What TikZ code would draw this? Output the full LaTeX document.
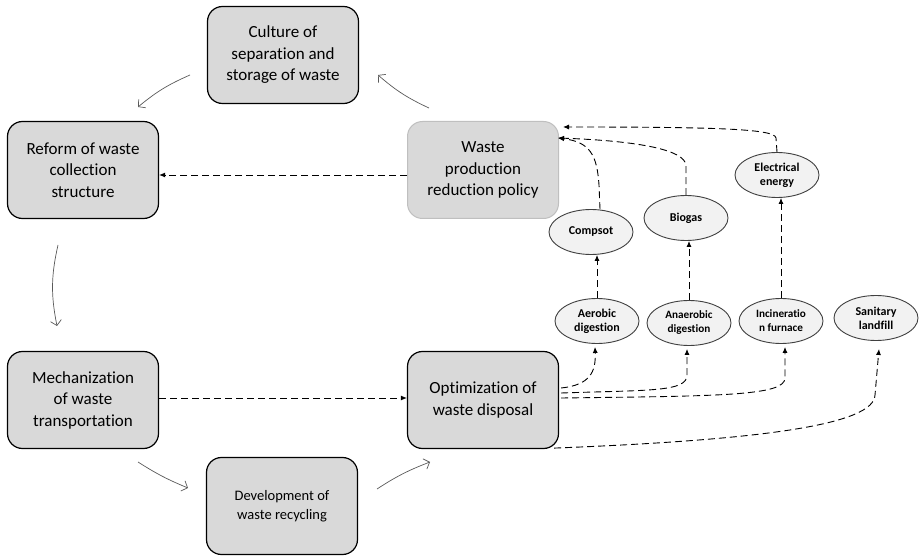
\documentclass[tikz,border=0pt]{standalone}
\usepackage{fontspec}
\setmainfont{Carlito}[Ligatures={NoCommon,NoRare,NoContextual}]
\usetikzlibrary{shapes.geometric,arrows.meta,calc}
\definecolor{boxgray}{HTML}{D9D9D9}
\definecolor{ellgray}{HTML}{F2F2F2}
\definecolor{lightborder}{HTML}{BFBFBF}
\definecolor{arrgray}{HTML}{595959}
\tikzset{
  box/.style={draw=black, line width=1.2pt, fill=boxgray, rounded corners=15pt,
    minimum width=151pt, minimum height=97pt, align=center,
    font=\fontsize{17}{21.5}\selectfont, inner sep=2pt},
  ell/.style={ellipse, draw=black!75, line width=0.9pt, fill=ellgray,
    minimum width=84pt, minimum height=45pt, align=center,
    font=\bfseries\fontsize{12}{14}\selectfont, inner sep=0pt},
  dsh/.style={draw=black, line width=0.9pt, dash pattern=on 7pt off 4pt,
    -{Latex[length=6pt,width=5pt]}},
  sol/.style={draw=arrgray, line width=0.7pt, -{Straight Barb[length=5pt,width=11pt]}}
}
\begin{document}
\begin{tikzpicture}[x=1pt,y=-1pt]
\useasboundingbox (0,0) rectangle (919,556);
% boxes
\node[box] (cul) at (283,55) {Culture of\\separation and\\storage of waste};
\node[box] (ref) at (83,170) {Reform of waste\\collection\\structure};
\node[box, draw=lightborder, line width=1pt] (wp) at (483,170) {Waste\\production\\reduction policy};
\node[box] (mech) at (83,400) {Mechanization\\of waste\\transportation};
\node[box] (opt) at (483,400) {Optimization of\\waste disposal};
\node[box, font=\fontsize{14.5}{18.5}\selectfont] (dev) at (282,506) {Development of\\waste recycling};
% ellipses
\node[ell] (comp) at (591,232) {Compsot};
\node[ell] (bio) at (686,218) {Biogas};
\node[ell] (elec) at (777,175) {Electrical\\energy};
\node[ell] (aer) at (597,321) {Aerobic\\digestion};
\node[ell, font=\bfseries\fontsize{11.2}{14}\selectfont] (ana) at (689,323) {Anaerobic\\digestion};
\node[ell, font=\bfseries\fontsize{11.2}{14}\selectfont] (inc) at (781,321) {Incineratio\\n furnace};
\node[ell] (san) at (876,318) {Sanitary\\landfill};
% dashed connectors
\draw[dsh] ($(wp.west)+(0,5)$) -- ($(ref.east)+(0,5)$);
\draw[dsh] ($(mech.east)+(0,-2)$) -- ($(opt.west)+(0,-2)$);
\draw[dsh] ($(opt.east)+(2,-12)$) .. controls (590,385) and (596,372) .. ($(aer.south)+(-2,3)$);
\draw[dsh] ($(opt.east)+(2,-7)$) .. controls (650,390) and (687,392) .. (687,375) -- ($(ana.south)+(-2,3)$);
\draw[dsh] ($(opt.east)+(2,-2)$) .. controls (720,396) and (785,396) .. (785,378) -- ($(inc.south)+(4,3)$);
\draw[dsh] ($(opt.south east)+(-5,-1)$) .. controls (760,440) and (874,425) .. (875,395) -- ($(san.south)+(3,8)$);
\draw[dsh] (aer.north) -- (comp.south -| aer.north);
\draw[dsh] (ana.north) -- (bio.south -| ana.north);
\draw[dsh] (inc.north) -- (elec.south -| inc.north);
\coordinate (t1) at (558,138);
\coordinate (t2) at (563,127);
\draw[dsh] ($(comp.north)+(9,0)$) -- (599,185) .. controls (597,155) and (590,142) .. (t1);
\draw[dsh] (bio.north) -- (686,165) .. controls (684,150) and (640,141) .. (t1);
\draw[dsh] (elec.north) -- (776,138) .. controls (775,129) and (720,127) .. (t2);
% solid curved arrows
\coordinate (a1) at (429,108); \coordinate (b1) at (378,75);
\coordinate (a2) at (190,75);  \coordinate (b2) at (138,107);
\coordinate (a3) at (58,245);  \coordinate (b3) at (57,326);
\coordinate (a4) at (138,462); \coordinate (b4) at (188,488);
\coordinate (a5) at (377,489); \coordinate (b5) at (430,462);
\draw[sol] (a1) to[bend left=8] (b1);
\draw[sol] (a2) to[bend right=8] (b2);
\draw[sol] (a3) to[bend right=12] (b3);
\draw[sol] (a4) to[bend right=5] (b4);
\draw[sol] (a5) to[bend left=6] (b5);
\end{tikzpicture}
\end{document}
